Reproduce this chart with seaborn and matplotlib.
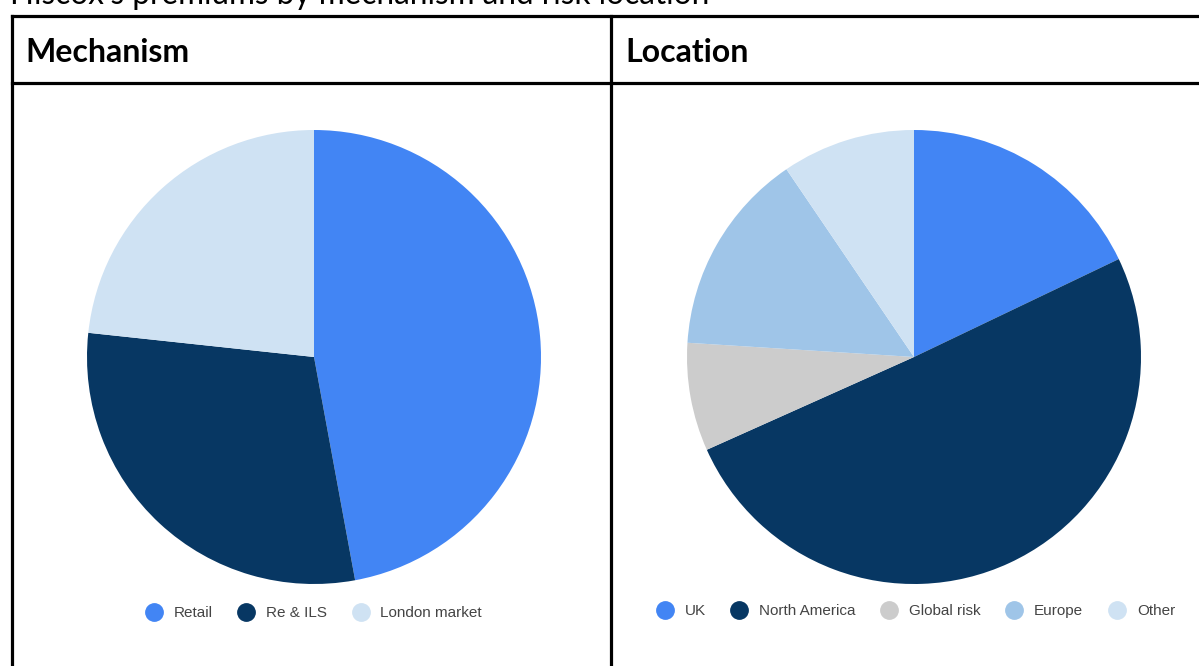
import matplotlib
matplotlib.use("Agg")
import matplotlib.pyplot as plt
from matplotlib.lines import Line2D
import seaborn as sns

title = "Hiscox's premiums by mechanism and risk location"
headers = ["Mechanism", "Location"]

mech_labels = ["Retail", "Re & ILS", "London market"]
mech_values = [47.1, 29.6, 23.3]
mech_colors = ["#4285f4", "#073763", "#cfe2f3"]

loc_labels = ["UK", "North America", "Global risk", "Europe", "Other"]
loc_values = [17.9, 50.4, 7.7, 14.5, 9.5]
loc_colors = ["#4285f4", "#073763", "#cccccc", "#9fc5e8", "#cfe2f3"]

sns.set_theme(style="white")
plt.rcParams['font.family'] = ['Lato', 'DejaVu Sans']
plt.rcParams['text.color'] = 'black'

W, H = 1199, 666
fig = plt.figure(figsize=(W / 100, H / 100), dpi=100)
fig.patch.set_facecolor("white")

def fx(x):
    return x / W

def fy(y):
    return 1 - y / H

# title (partially cut at top like the reference)
fig.text(fx(10), fy(4), title, fontsize=22.7, color="black", va="baseline", ha="left")

# table borders
lw = 2.3
for (x0, y0, x1, y1) in [(12, 16, 1210, 16), (12, 83, 1210, 83),
                         (12, 16, 12, 680), (611, 16, 611, 680)]:
    fig.add_artist(Line2D([fx(x0), fx(x1)], [fy(y0), fy(y1)], color="black",
                          lw=lw, transform=fig.transFigure, solid_capstyle="projecting"))

fig.text(fx(25), fy(62), headers[0], fontsize=23, fontweight="bold", color="black",
         va="baseline", ha="left")
fig.text(fx(625), fy(62), headers[1], fontsize=23, fontweight="bold", color="black",
         va="baseline", ha="left")

R = 227

def draw_pie(cx, cy, values, colors):
    ax = fig.add_axes([fx(cx - R), fy(cy + R), 2 * R / W, 2 * R / H])
    ax.pie(values, colors=colors, startangle=90, counterclock=False, radius=1,
           wedgeprops=dict(linewidth=0))
    ax.set_xlim(-1, 1)
    ax.set_ylim(-1, 1)
    ax.set_aspect("equal")
    ax.axis("off")
    return ax

draw_pie(314, 357, mech_values, mech_colors)
draw_pie(914, 357, loc_values, loc_colors)

def make_legend(labels, colors, cx, cy):
    handles = [Line2D([], [], marker="o", linestyle="none", markersize=12.5,
                      markerfacecolor=c, markeredgecolor=c) for c in colors]
    leg = fig.legend(handles, labels, loc="center", bbox_to_anchor=(fx(cx), fy(cy)),
                     ncol=len(labels), frameon=False, handletextpad=0.8,
                     columnspacing=1.7, handlelength=1.0,
                     prop={"family": ["Liberation Sans", "DejaVu Sans"], "size": 11})
    for t in leg.get_texts():
        t.set_color("#444444")
    return leg

make_legend(mech_labels, mech_colors, 314, 613)
make_legend(loc_labels, loc_colors, 916, 611)

fig.savefig("out.png", dpi=100, facecolor="white")
